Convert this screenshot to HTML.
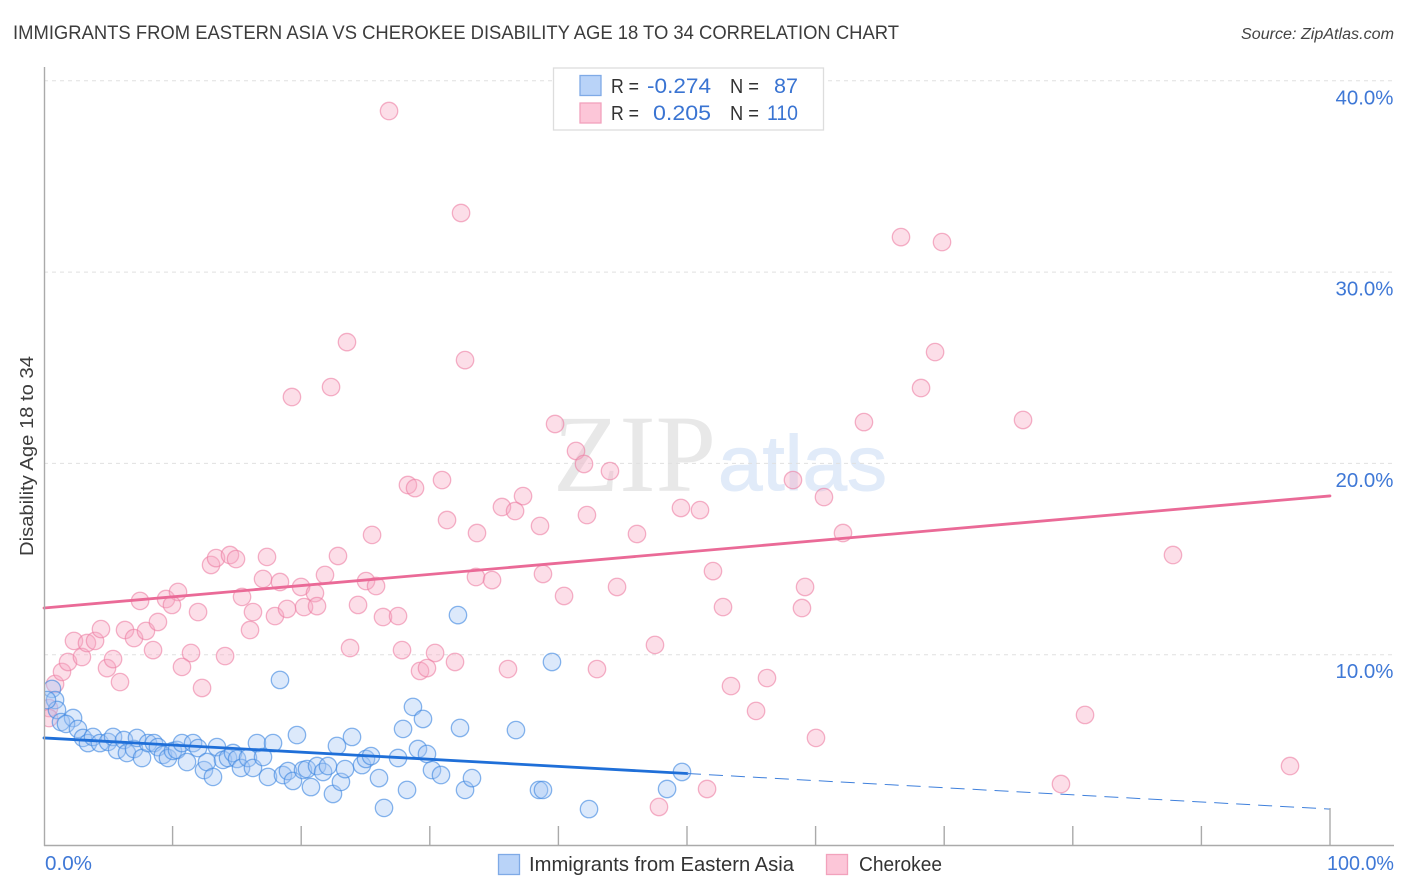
<!DOCTYPE html>
<html lang="en">
<head>
<meta charset="utf-8">
<title>Immigrants from Eastern Asia vs Cherokee Disability Age 18 to 34 Correlation Chart</title>
<style>
  html, body { margin: 0; padding: 0; background: #fff; }
  svg { display: block; font-family: "Liberation Sans", sans-serif; }
</style>
</head>
<body>
<svg id="chart" xmlns="http://www.w3.org/2000/svg" width="1406" height="892" viewBox="0 0 1406 892">
  <defs>
    <clipPath id="plot-clip"><rect x="44.5" y="60" width="1350" height="786"></rect></clipPath>
  </defs>
  <rect x="0" y="0" width="1406" height="892" fill="#ffffff"></rect>

  <text x="13" y="39" font-size="19.5" fill="#3c3c3c" textLength="886" lengthAdjust="spacingAndGlyphs">IMMIGRANTS FROM EASTERN ASIA VS CHEROKEE DISABILITY AGE 18 TO 34 CORRELATION CHART</text>
  <text x="1241" y="39" font-size="15.5" font-style="italic" fill="#444444" textLength="153" lengthAdjust="spacingAndGlyphs">Source: ZipAtlas.com</text>

  <g>
    <text x="553" y="491" font-family="'Liberation Serif', serif" font-size="110" fill="#e8e8e8" textLength="163" lengthAdjust="spacingAndGlyphs">ZIP</text>
    <text x="718" y="490" font-size="78" fill="#e1ebf9" stroke="#e1ebf9" stroke-width="1" textLength="169" lengthAdjust="spacingAndGlyphs">atlas</text>
  </g>

  <g id="grid-layer"></g>
  <g id="point-layer" clip-path="url(#plot-clip)"></g>
  <g id="trend-layer"></g>
  <g id="axis-layer"></g>

  <text transform="translate(33,456) rotate(-90)" text-anchor="middle" font-size="18.5" fill="#3c3c3c" textLength="200" lengthAdjust="spacingAndGlyphs">Disability Age 18 to 34</text>

  <g>
    <rect x="553.5" y="68" width="270" height="62" fill="#ffffff" stroke="#dddddd" stroke-width="1.3"></rect>
    <rect x="580" y="75.5" width="21" height="20" fill="#b9d3f8" stroke="#7faae6" stroke-width="1.3"></rect>
    <rect x="580" y="103" width="21" height="20" fill="#fcc6d8" stroke="#f2a2bc" stroke-width="1.3"></rect>
    <text x="611" y="93" font-size="20" fill="#333333" textLength="28" lengthAdjust="spacingAndGlyphs">R =</text>
    <text x="647" y="93" font-size="21" fill="#3a74d2" textLength="64" lengthAdjust="spacingAndGlyphs">-0.274</text>
    <text x="730" y="93" font-size="20" fill="#333333" textLength="29" lengthAdjust="spacingAndGlyphs">N =</text>
    <text x="774" y="93" font-size="21" fill="#3a74d2" textLength="24" lengthAdjust="spacingAndGlyphs">87</text>
    <text x="611" y="120" font-size="20" fill="#333333" textLength="28" lengthAdjust="spacingAndGlyphs">R =</text>
    <text x="653" y="120" font-size="21" fill="#3a74d2" textLength="58" lengthAdjust="spacingAndGlyphs">0.205</text>
    <text x="730" y="120" font-size="20" fill="#333333" textLength="29" lengthAdjust="spacingAndGlyphs">N =</text>
    <text x="767" y="120" font-size="21" fill="#3a74d2" textLength="31" lengthAdjust="spacingAndGlyphs">110</text>
  </g>

  <g>
    <rect x="498.5" y="854.5" width="21" height="20" fill="#b9d3f8" stroke="#7faae6" stroke-width="1.3"></rect>
    <text x="529" y="871" font-size="20" fill="#333333" textLength="265" lengthAdjust="spacingAndGlyphs">Immigrants from Eastern Asia</text>
    <rect x="826.5" y="854.5" width="21" height="20" fill="#fcc6d8" stroke="#f2a2bc" stroke-width="1.3"></rect>
    <text x="859" y="871" font-size="20" fill="#333333" textLength="83" lengthAdjust="spacingAndGlyphs">Cherokee</text>
  </g>
</svg>

<script>
const xTickValues = [0, 10, 20, 30, 40, 50, 60, 70, 80, 90, 100];
const xTickLabels = ["0.0%", "100.0%"];
const yTickValues = [10, 20, 30, 40];
const yTickLabels = ["10.0%", "20.0%", "30.0%", "40.0%"];

const blueX = [0.62,0.86,1.01,1.32,2.26,1.71,2.64,3.03,3.42,3.81,4.35,4.98,5.37,5.68,6.22,6.45,7.00,7.23,7.62,8.09,8.55,8.86,9.25,9.64,10.03,10.34,10.73,11.12,11.59,11.98,12.44,12.67,13.14,13.45,13.92,14.31,14.70,15.01,15.32,15.86,16.25,16.56,17.03,17.42,17.81,18.58,18.97,19.36,19.67,20.14,20.45,20.76,21.23,21.70,22.08,22.47,22.78,23.09,23.41,23.95,24.73,25.04,25.43,26.05,26.44,27.53,27.92,28.23,28.69,29.08,29.47,29.78,30.17,30.87,32.35,32.74,33.28,32.19,18.35,36.70,38.49,38.80,39.50,42.38,48.45,49.61,0.23];
const blueY = [8.21,7.63,7.11,6.48,6.69,6.38,6.12,5.65,5.38,5.70,5.38,5.44,5.70,5.02,5.54,4.86,5.07,5.65,4.60,5.38,5.38,5.17,4.76,4.60,4.97,5.02,5.38,4.39,5.38,5.12,3.97,4.39,3.61,5.17,4.50,4.60,4.86,4.55,4.08,4.60,4.08,5.38,4.65,3.61,5.38,3.71,3.92,3.40,5.80,3.97,4.02,3.08,4.18,3.87,4.18,2.72,5.23,3.35,4.02,5.70,4.23,4.55,4.70,3.55,1.99,4.60,6.12,2.93,7.27,5.07,6.64,4.81,3.97,3.71,6.17,2.93,3.55,12.07,8.68,6.06,2.93,2.93,9.62,1.93,2.98,3.87,7.63];

const pinkX = [0.39,0.39,0.86,1.40,1.87,2.33,2.95,3.34,3.97,4.43,4.90,5.37,5.91,6.30,7.00,7.93,8.86,8.48,7.47,9.49,10.42,9.95,11.98,11.43,10.73,14.08,12.29,12.99,13.38,14.46,14.93,17.34,17.03,15.40,16.25,16.02,17.96,18.35,19.99,21.85,22.86,25.51,21.07,20.22,21.23,18.90,25.04,25.82,24.42,26.36,27.53,23.80,27.84,30.41,31.96,29.24,29.78,33.59,34.84,33.67,36.08,26.83,32.43,66.64,69.83,23.56,32.74,69.29,22.32,19.28,68.20,76.13,63.76,39.74,41.37,41.99,44.01,58.24,30.95,28.30,28.85,60.65,37.25,35.61,36.63,31.34,38.57,42.22,49.53,51.01,46.11,62.13,87.79,52.02,38.80,44.56,59.18,40.44,52.80,58.94,47.51,43.00,56.22,53.42,55.37,80.95,60.03,96.89,79.08,51.56,47.82];
const pinkY = [7.21,6.69,8.47,9.10,9.62,10.72,9.88,10.61,10.72,11.34,9.30,9.77,8.57,11.29,10.87,11.24,11.71,10.24,12.81,12.91,13.28,12.60,12.23,10.09,9.36,9.93,8.26,14.69,15.05,15.21,15.00,15.11,13.96,13.02,12.23,11.29,12.02,13.80,13.54,14.17,15.16,16.26,13.22,12.49,12.54,12.39,13.85,13.59,12.60,11.97,12.02,10.35,10.24,10.09,9.62,9.15,9.30,14.06,13.90,16.36,9.25,38.42,33.09,31.83,31.57,26.34,25.40,25.82,23.99,23.47,23.94,22.27,22.16,22.06,20.65,19.97,19.60,19.13,19.13,18.87,18.71,18.24,18.29,17.72,17.51,17.04,16.73,17.30,17.67,17.56,16.31,16.36,15.21,14.37,14.22,13.54,13.54,13.07,12.49,12.44,10.51,9.25,8.78,8.36,7.06,6.85,5.65,4.18,3.24,2.98,2.04];

const blueTrendStart = 5.65;
const blueTrendEnd = 1.93;
const blueSolidUntil = 50;
const pinkTrendStart = 12.44;
const pinkTrendEnd = 18.30;

const NS = "http://www.w3.org/2000/svg";
function xScale(v) { return 44 + v * 12.86; }
function yScale(v) { return 846 - v * 19.13; }
function trendAt(start, end, x) { return start + (end - start) * x / 100; }
function make(tag, attrs, parent) {
  const el = document.createElementNS(NS, tag);
  for (const k in attrs) el.setAttribute(k, attrs[k]);
  parent.appendChild(el);
  return el;
}

const gridLayer = document.getElementById("grid-layer");
const pointLayer = document.getElementById("point-layer");
const trendLayer = document.getElementById("trend-layer");
const axisLayer = document.getElementById("axis-layer");

yTickValues.forEach(function (v, i) {
  const line = make("line", { x1: 44, x2: 1394, y1: yScale(v), y2: yScale(v), stroke: "#e0e0e0", "stroke-width": 1, "stroke-dasharray": "4 4" }, gridLayer);
  
  
  const label = make("text", { x: 1393.5, y: yScale(v) + 23.5, "text-anchor": "end", "font-size": 20, fill: "#3f78d6", textLength: 58, lengthAdjust: "spacingAndGlyphs" }, axisLayer);
  label.textContent = yTickLabels[i];
  
  
});

function drawPoints(xs, ys, fill, stroke, opacity, name) {
  xs.forEach(function (x, i) {
    const c = make("circle", { cx: xScale(x), cy: yScale(ys[i]), r: 8.7, fill: fill, "fill-opacity": 0.38, stroke: stroke, "stroke-opacity": opacity, "stroke-width": 1.3 }, pointLayer);
    
    
  });
}
drawPoints(pinkX, pinkY, "#f6a8c2", "#ec7fa4", 0.6, "cherokee-point");
drawPoints(blueX, blueY, "#a2c6f4", "#3f87e0", 0.62, "eastern-asia-point");

const pinkTrend = make("line", { x1: xScale(0), x2: xScale(100), y1: yScale(pinkTrendStart), y2: yScale(pinkTrendEnd), stroke: "#ea6a97", "stroke-width": 2.8, "stroke-linecap": "round" }, trendLayer);



const blueTrend = make("line", { x1: xScale(0), x2: xScale(blueSolidUntil), y1: yScale(blueTrendStart), y2: yScale(trendAt(blueTrendStart, blueTrendEnd, blueSolidUntil)), stroke: "#1f6fd8", "stroke-width": 2.8, "stroke-linecap": "round" }, trendLayer);



const blueDash = make("line", { x1: xScale(blueSolidUntil), x2: xScale(100), y1: yScale(trendAt(blueTrendStart, blueTrendEnd, blueSolidUntil)), y2: yScale(blueTrendEnd), stroke: "#3f80dc", "stroke-width": 1, "stroke-dasharray": "14 8" }, trendLayer);



const yAxis = make("line", { x1: 44.5, x2: 44.5, y1: 67, y2: 846, stroke: "#aaaaaa", "stroke-width": 1.4 }, axisLayer);



const xAxis = make("line", { x1: 44, x2: 1394, y1: 845.5, y2: 845.5, stroke: "#aaaaaa", "stroke-width": 1.4 }, axisLayer);



xTickValues.forEach(function (v) {
  if (v === 0) return;
  const top = v === 100 ? 808 : 826;
  const tick = make("line", { x1: xScale(v), x2: xScale(v), y1: top, y2: 846, stroke: "#aaaaaa", "stroke-width": 1.4 }, axisLayer);
  
  
});

const xMinLabel = make("text", { x: 45, y: 870, "font-size": 20, fill: "#3f78d6", textLength: 47, lengthAdjust: "spacingAndGlyphs" }, axisLayer);
xMinLabel.textContent = xTickLabels[0];



const xMaxLabel = make("text", { x: 1327, y: 870, "font-size": 20, fill: "#3f78d6", textLength: 67, lengthAdjust: "spacingAndGlyphs" }, axisLayer);
xMaxLabel.textContent = xTickLabels[1];


</script>
</body>
</html>
